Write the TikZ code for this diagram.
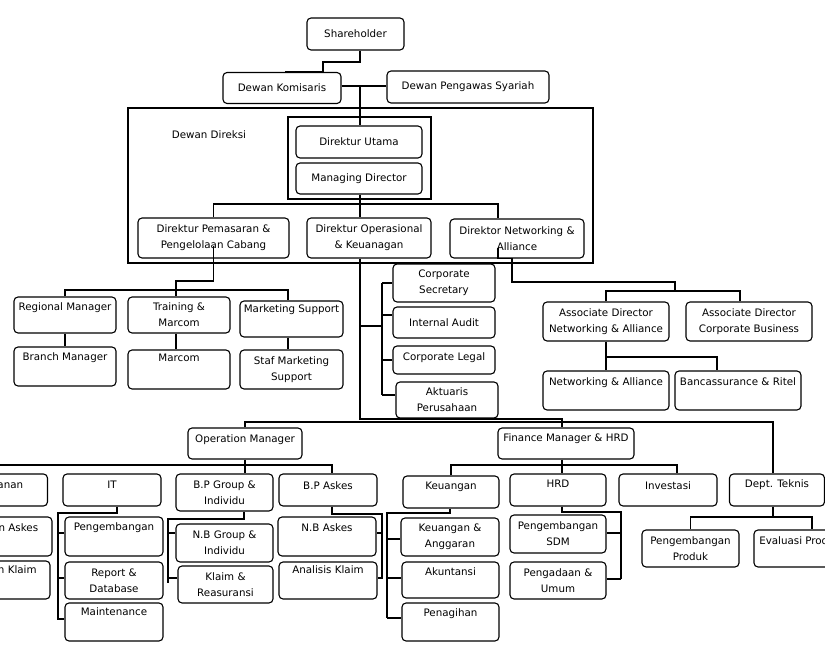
\documentclass[tikz,border=0pt]{standalone}
\usepackage{fontspec}
\setmainfont{DejaVu Sans}

\begin{document}
\begin{tikzpicture}[%
                x=1pt, y=-1pt,
                line width=1.1pt,
                font=\fontsize{10.3}{16}\selectfont,
                box/.style={draw, rounded corners=4pt, inner sep=0pt, align=center},
                panel/.style={draw, inner sep=0pt},
                lift/.style={text height=8pt, text depth=#1}
            ]
            \useasboundingbox (0,0) rectangle (825,647);
            \clip (0,0) rectangle (825,647);

            % board
            \node[box, minimum width=97, minimum height=32] (shr) at (355.5,34) {Shareholder};
            \node[box, minimum width=118, minimum height=31] (kom) at (282,88) {Dewan Komisaris};
            \node[box, minimum width=162, minimum height=32] (dps) at (468,87) {Dewan Pengawas Syariah};
            \node[panel, minimum width=465, minimum height=155] (bod) at (360.5,185.5) {};
            \node (bodlabel) at (209,135) {Dewan Direksi};
            \node[panel, minimum width=143, minimum height=82] (core) at (359.5,158) {};
            \node[box, minimum width=126, minimum height=32] (dirut) at (359,142) {Direktur Utama};
            \node[box, minimum width=126, minimum height=31] (md) at (359,178.5) {Managing Director};
            \node[box, minimum width=151, minimum height=40] (dpem) at (213.5,238) {Direktur Pemasaran \&\\Pengelolaan Cabang};
            \node[box, minimum width=124, minimum height=40] (dops) at (369,238) {Direktur Operasional\\\& Keuanagan};
            \node[box, minimum width=134, minimum height=39] (dnet) at (517,238.5) {Direktor Networking \&\\Alliance};

            % staff
            \node[box, minimum width=102, minimum height=38] (csec) at (444,283) {Corporate\\Secretary};
            \node[box, minimum width=102, minimum height=31] (iaud) at (444,322.5) {Internal Audit};
            \node[box, lift=8pt, minimum width=102, minimum height=28] (clegal) at (444,360) {Corporate Legal};
            \node[box, minimum width=102, minimum height=36] (aktu) at (447,400) {Aktuaris\\Perusahaan};

            % networking
            \node[box, minimum width=126, minimum height=39] (adna) at (606,321.5) {Associate Director\\Networking \& Alliance};
            \node[box, minimum width=126, minimum height=39] (adcb) at (749,321.5) {Associate Director\\Corporate Business};
            \node[box, lift=17.4pt, minimum width=126, minimum height=39] (na) at (606,390.5) {Networking \& Alliance};
            \node[box, lift=17.4pt, minimum width=126, minimum height=39] (bancas) at (738,390.5) {Bancassurance \& Ritel};

            % marketing
            \node[box, lift=16.4pt, minimum width=102, minimum height=36] (regm) at (65,315) {Regional Manager};
            \node[box, minimum width=102, minimum height=36] (trm) at (179,315) {Training \&\\Marcom};
            \node[box, lift=20.4pt, minimum width=103, minimum height=36] (mks) at (291.5,319) {Marketing Support};
            \node[box, lift=19.4pt, minimum width=102, minimum height=39] (brm) at (65,366.5) {Branch Manager};
            \node[box, lift=23.4pt, minimum width=102, minimum height=39] (marcom) at (179,369.5) {Marcom};
            \node[box, minimum width=103, minimum height=39] (smks) at (291.5,369.5) {Staf Marketing\\Support};

            % operation
            \node[box, lift=10.4pt, minimum width=114, minimum height=31] (opm) at (245,443.5) {Operation Manager};
            \node[box, minimum width=105, minimum height=32] (lc1) at (-5,490) {};
            \node[box, lift=11.4pt, minimum width=98, minimum height=32] (it) at (112,490) {IT};
            \node[box, minimum width=97, minimum height=37] (bpg) at (224.5,492.5) {B.P Group \&\\Individu};
            \node[box, lift=8.4pt, minimum width=98, minimum height=32] (bpas) at (328,490) {B.P Askes};
            \node[box, minimum width=107, minimum height=39] (lc2) at (-1.5,536.5) {};
            \node[box, minimum width=107, minimum height=38] (lc3) at (-3.5,580) {};
            \node[anchor=base east] (lc1text) at (27,488) {anan};
            \node[anchor=base east] (lc2text) at (42,531.5) {n Askes};
            \node[anchor=base east] (lc3text) at (40.5,573.3) {n Klaim};
            \node[box, lift=19.6pt, minimum width=98, minimum height=39] (pgb) at (114,536.5) {Pengembangan};
            \node[box, minimum width=98, minimum height=37] (rpd) at (114,580.5) {Report \&\\Database};
            \node[box, lift=22pt, minimum width=98, minimum height=38] (mnt) at (114,622) {Maintenance};
            \node[box, minimum width=97, minimum height=38] (nbg) at (224.5,543) {N.B Group \&\\Individu};
            \node[box, minimum width=95, minimum height=37] (klr) at (225.5,584.5) {Klaim \&\\Reasuransi};
            \node[box, lift=17.6pt, minimum width=98, minimum height=39] (nbas) at (327,536.5) {N.B Askes};
            \node[box, lift=22.4pt, minimum width=98, minimum height=37] (akl) at (328,580.5) {Analisis Klaim};

            % finance
            \node[box, lift=11.6pt, minimum width=136, minimum height=31] (fin) at (566,443.5) {Finance Manager \& HRD};
            \node[box, lift=13.4pt, minimum width=96, minimum height=32] (keu) at (451,492) {Keuangan};
            \node[box, lift=12.4pt, minimum width=96, minimum height=32] (hrd) at (558,490) {HRD};
            \node[box, lift=9.4pt, minimum width=98, minimum height=32] (inv) at (668,490) {Investasi};
            \node[box, lift=13.4pt, minimum width=95, minimum height=32] (dtek) at (777,490) {Dept. Teknis};
            \node[box, minimum width=98, minimum height=38] (kag) at (450,537) {Keuangan \&\\Anggaran};
            \node[box, lift=18pt, minimum width=97, minimum height=36] (aku) at (450.5,580) {Akuntansi};
            \node[box, lift=18.4pt, minimum width=97, minimum height=38] (pen) at (450.5,622) {Penagihan};
            \node[box, minimum width=96, minimum height=38] (psdm) at (558,534) {Pengembangan\\SDM};
            \node[box, minimum width=96, minimum height=37] (pgu) at (558,580.5) {Pengadaan \&\\Umum};
            \node[box, minimum width=97, minimum height=37] (pgp) at (690.5,548.5) {Pengembangan\\Produk};
            \node[box, lift=17pt, minimum width=92, minimum height=37] (evp) at (800,548.5) {Evaluasi Produk};

            % links
            \draw (shr.south -| 360,0) |- (323,62) |- (285,0 |- kom.north);
            \draw (kom.east |- 0,86) -- (dps.west |- 0,86);
            \draw (360,86) -- (360,0 |- dirut.north);
            \draw (md.south -| 360,0) -- (360,0 |- dops.north);
            \draw (dpem.north) |- (498,204) -- (498,0 |- dnet.north);

            \draw ([yshift=-8pt]dpem.center) |- (176,281) -- (176,0 |- trm.north);
            \draw (regm.north) |- (288,290) -- (288,0 |- mks.north);
            \path
            (regm.south)        edge (brm.north)
            (176,0 |- trm.south) edge (176,0 |- marcom.north)
            (288,0 |- mks.south) edge (288,0 |- smks.north);

            \draw (dops.south -| 360,0) -- (360,419) -| (562,0 |- fin.north);
            \draw (360,326) -- (382,326)
            (382,0 |- csec.west) -- (382,395)
            (382,0 |- csec.west) -- (csec.west)
            (382,315) -- (iaud.west |- 0,315)
            (382,0 |- clegal.west) -- (clegal.west)
            (382,395) -- (aktu.west |- 0,395);

            \draw ([yshift=-10pt]498,0 |- dnet.center) |- (512,0 |- dnet.south) |- (675,282) -- (675,291);
            \draw (adna.north) |- (740,291) -- (740,0 |- adcb.north);
            \draw (adna.south) -- (na.north);
            \draw (adna.south |- 0,357) -| (717,0 |- bancas.north);

            \draw (opm.north) |- (773,422) -- (773,0 |- dtek.north);
            \draw (opm.south) -- (opm.south |- bpg.north);
            \draw (lc1.north) |- (332,465) -- (332,0 |- bpas.north);
            \draw (117,0 |- it.south) |- (58,513) -- (58,620)
            (58,533) -- (pgb.west |- 0,533)
            (58,578) -- (rpd.west |- 0,578)
            (58,619) -- (mnt.west |- 0,619);
            \draw (244,0 |- bpg.south) |- (168,519) -- (168,583)
            (168,533) -- (nbg.west |- 0,533)
            (168,578) -- (klr.west |- 0,578);
            \draw (332,0 |- bpas.south) |- (382,514) -- (382,579)
            (382,533) -- (nbas.east |- 0,533)
            (382,578) -- (akl.east |- 0,578);

            \draw (562,0 |- fin.south) -- (562,0 |- hrd.north);
            \draw (keu.north) |- (677,465) -- (677,0 |- inv.north);
            \draw (450,0 |- keu.south) |- (387,513) -- (387,618)
            (387,539) -- (kag.west |- 0,539)
            (387,578) -- (aku.west |- 0,578)
            (387,618) -- (pen.west |- 0,618);
            \draw (562,0 |- hrd.south) |- (621,512) -- (621,579)
            (psdm.east |- 0,533) -- (621,533)
            (pgu.east |- 0,579) -- (621,579);
            \draw (773,0 |- dtek.south) -- (773,517);
            \draw (pgp.north) |- (812,517) -- (812,0 |- evp.north);
        \end{tikzpicture}
\end{document}
